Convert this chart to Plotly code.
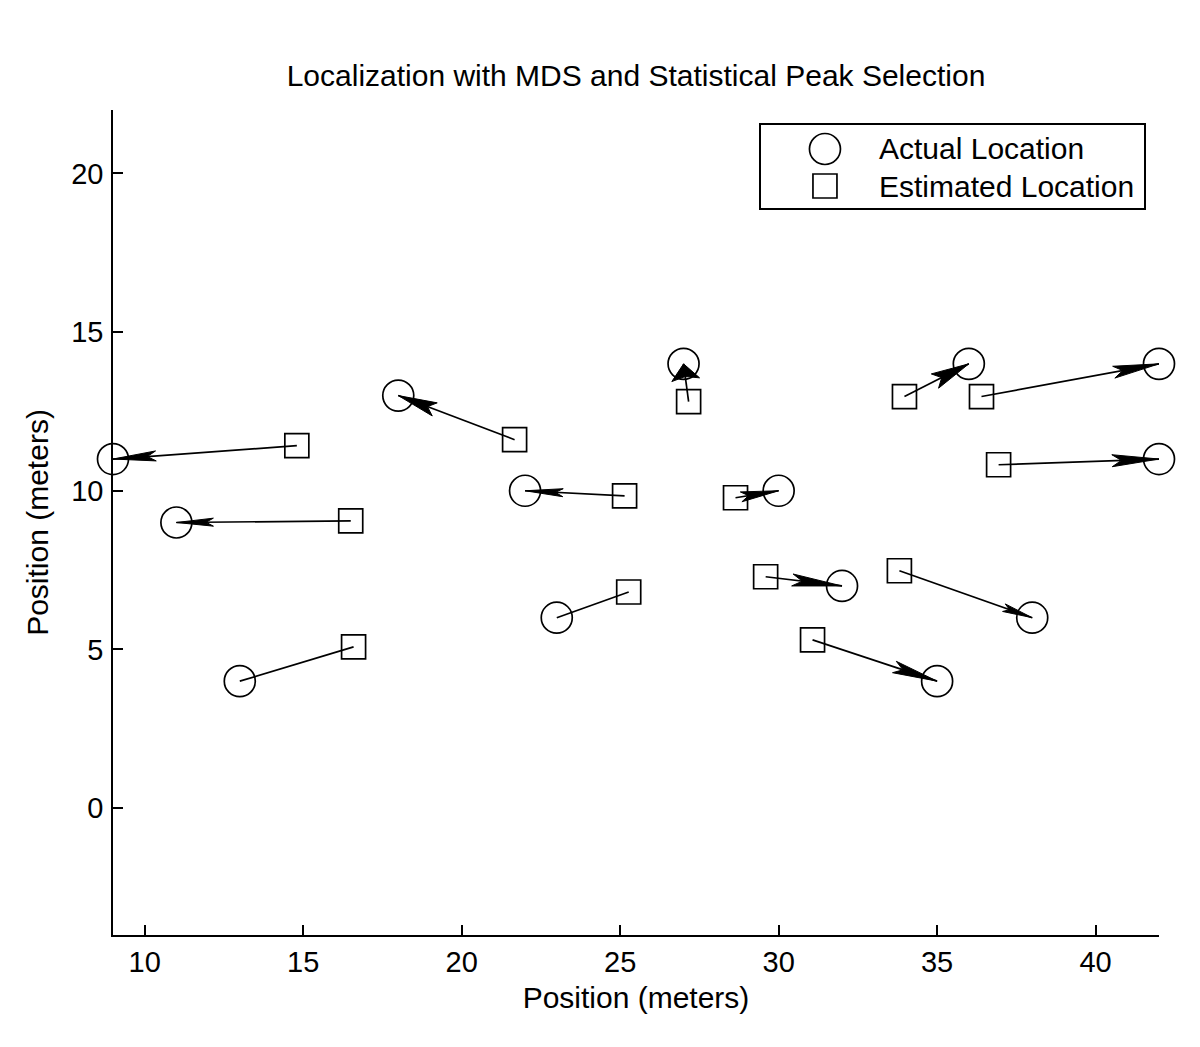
import numpy as np
import plotly.graph_objects as go

# ---- data ----
actual_x = [9, 11, 13, 18, 22, 23, 27, 30, 32, 35, 36, 38, 42, 42]
actual_y = [11, 9, 4, 13, 10, 6, 14, 10, 7, 4, 14, 6, 14, 11]
est_x = [14.80, 16.50, 16.59, 21.67, 25.14, 25.27, 27.16, 28.64, 29.59, 31.07, 33.97, 33.81, 36.40, 36.94]
est_y = [11.42, 9.05, 5.08, 11.61, 9.84, 6.81, 12.81, 9.78, 7.29, 5.30, 12.97, 7.48, 12.97, 10.82]
x_ticks = [10, 15, 20, 25, 30, 35, 40]
y_ticks = [0, 5, 10, 15, 20]
legend_labels = ["Actual Location", "Estimated Location"]

# ---- styling (arrow head sizes, in pixels) ----
head_len_px = [43, 37, 0, 39, 38, 0, 16, 38, 50, 45, 38, 30, 46, 47]
head_hw_px = [5, 4, 0, 7, 4, 0, 14, 5, 6, 6, 8, 4, 6, 6]

OFF = 8  # page body margin
W, H = 1200, 1047
# target plot box in screenshot pixels: left 113, right 1159, top 110, bottom 935
ML = 113 - OFF
MT = 110 - OFF
MR = (OFF + W) - 1159
MB = (OFF + H) - 935
XR = [9, 42]
YR = [-4, 22]
pw = W - ML - MR
ph = H - MT - MB
px_per_x = pw / (XR[1] - XR[0])
px_per_y = ph / (YR[1] - YR[0])

FONT = "Liberation Sans, Arial, sans-serif"

fig = go.Figure()

# connecting lines
lx, ly = [], []
for ax_, ay_, ex_, ey_ in zip(actual_x, actual_y, est_x, est_y):
    lx += [ex_, ax_, None]
    ly += [ey_, ay_, None]
fig.add_trace(go.Scatter(x=lx, y=ly, mode="lines", line=dict(color="black", width=1.7),
                         showlegend=False, hoverinfo="skip", cliponaxis=False))

# arrow heads (filled polygons computed in pixel space, mapped back to data)
hx, hy = [], []
for i, (ax_, ay_, ex_, ey_) in enumerate(zip(actual_x, actual_y, est_x, est_y)):
    L = head_len_px[i]
    hw = head_hw_px[i]
    if L <= 0:
        continue
    dxp = (ax_ - ex_) * px_per_x
    dyp = (ay_ - ey_) * px_per_y
    n = np.hypot(dxp, dyp)
    ux, uy = dxp / n, dyp / n
    nx, ny = -uy, ux
    pts = [
        (0, 0),
        (-L * ux + hw * nx, -L * uy + hw * ny),
        (-0.8 * L * ux, -0.8 * L * uy),
        (-L * ux - hw * nx, -L * uy - hw * ny),
        (0, 0),
    ]
    for (px, py) in pts:
        hx.append(ax_ + px / px_per_x)
        hy.append(ay_ + py / px_per_y)
    hx.append(None)
    hy.append(None)
fig.add_trace(go.Scatter(x=hx, y=hy, mode="lines", fill="toself", fillcolor="black",
                         line=dict(color="black", width=1), showlegend=False,
                         hoverinfo="skip", cliponaxis=False))

# markers
fig.add_trace(go.Scatter(x=actual_x, y=actual_y, mode="markers", name=legend_labels[0],
                         marker=dict(symbol="circle-open", size=31, color="black",
                                     line=dict(width=1.7, color="black")),
                         showlegend=False, cliponaxis=False))
fig.add_trace(go.Scatter(x=est_x, y=est_y, mode="markers", name=legend_labels[1],
                         marker=dict(symbol="square-open", size=24, color="black",
                                     line=dict(width=1.7, color="black")),
                         showlegend=False, cliponaxis=False))

# custom legend on an overlay axis
fig.add_trace(go.Scatter(x=[0.167], y=[0.711], mode="markers", xaxis="x2", yaxis="y2",
                         marker=dict(symbol="circle-open", size=31, color="black",
                                     line=dict(width=1.7, color="black")),
                         showlegend=False, hoverinfo="skip", cliponaxis=False))
fig.add_trace(go.Scatter(x=[0.167], y=[0.265], mode="markers", xaxis="x2", yaxis="y2",
                         marker=dict(symbol="square-open", size=24, color="black",
                                     line=dict(width=1.7, color="black")),
                         showlegend=False, hoverinfo="skip", cliponaxis=False))
for yy, lab in zip([0.711, 0.265], legend_labels):
    fig.add_annotation(x=0.303, y=yy, xref="x2", yref="y2", text=lab, showarrow=False,
                       xanchor="left", yanchor="middle",
                       font=dict(family=FONT, size=30, color="black"))

fig.update_layout(
    width=W, height=H,
    margin=dict(l=ML, r=MR, t=MT, b=MB),
    paper_bgcolor="white", plot_bgcolor="white",
    font=dict(family=FONT, size=29, color="black"),
    title=dict(text="Localization with MDS and Statistical Peak Selection",
               x=0.5, xref="paper", xanchor="center",
               y=1 - (75 - OFF) / H, yref="container", yanchor="middle",
               font=dict(size=30, color="black")),
    xaxis=dict(range=XR, tickvals=x_ticks, ticktext=[str(v) for v in x_ticks],
               showline=True, linecolor="black", linewidth=1.5,
               ticks="inside", ticklen=10, tickwidth=1.5, tickcolor="black",
               tickfont=dict(size=29),
               showgrid=False, zeroline=False,
               title=dict(text="Position (meters)", standoff=10,
                          font=dict(size=30, color="black"))),
    yaxis=dict(range=YR, tickvals=y_ticks, ticktext=[str(v) for v in y_ticks],
               showline=True, linecolor="black", linewidth=1.5,
               ticks="inside", ticklen=10, tickwidth=1.5, tickcolor="black",
               tickfont=dict(size=29),
               ticklabelstandoff=2,
               showgrid=False, zeroline=False,
               title=dict(text="Position (meters)", standoff=14,
                          font=dict(size=30, color="black"))),
    xaxis2=dict(domain=[(761 - 113) / pw, (1144 - 113) / pw], range=[0, 1], anchor="y2",
                showline=True, mirror=True, linecolor="black", linewidth=1.5,
                showticklabels=False, ticks="", showgrid=False, zeroline=False, fixedrange=True),
    yaxis2=dict(domain=[(935 - 208) / ph, (935 - 125) / ph], range=[0, 1], anchor="x2",
                showline=True, mirror=True, linecolor="black", linewidth=1.5,
                showticklabels=False, ticks="", showgrid=False, zeroline=False, fixedrange=True),
    showlegend=False,
)

fig.write_html("out.html")
